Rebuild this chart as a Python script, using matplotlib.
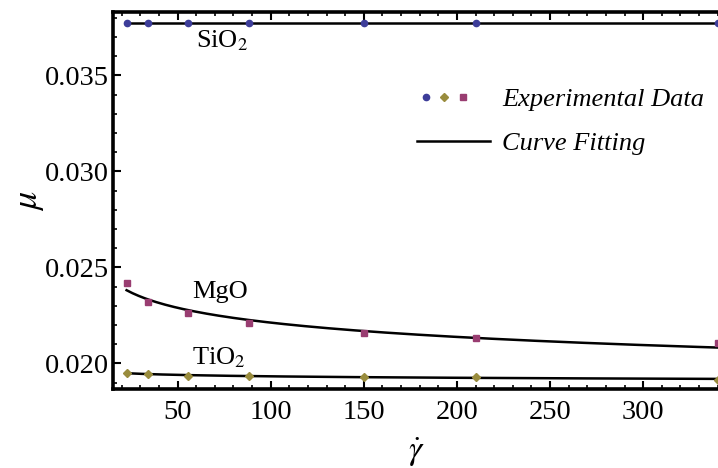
import numpy as np
import matplotlib
matplotlib.use("Agg")
import matplotlib.pyplot as plt
from matplotlib.lines import Line2D
from matplotlib.legend_handler import HandlerTuple
from matplotlib.ticker import MultipleLocator

plt.rcParams['font.family'] = ['Liberation Serif', 'DejaVu Serif']
plt.rcParams['mathtext.fontset'] = 'stix'

# shear rate values (x)
gamma_dot = [22.6, 34.2, 55.4, 88.3, 150.0, 210.0, 340.0]
# viscosity values
mu_sio2 = [0.03775, 0.03775, 0.03775, 0.03775, 0.03775, 0.03775, 0.03775]
mu_mgo = [0.02417, 0.02318, 0.02262, 0.02208, 0.02158, 0.02132, 0.02104]
mu_tio2 = [0.01950, 0.01946, 0.01932, 0.01932, 0.01930, 0.01930, 0.01915]

labels = ['SiO$_2$', 'MgO', 'TiO$_2$']
colores = ['#3D3D99', '#993D71', '#998C3D']


def ajuste_potencia(x, y):
    """Ajuste mu = K * x^b en escala log-log."""
    b, lnk = np.polyfit(np.log(x), np.log(y), 1)
    xs = np.linspace(min(x), max(x), 200)
    return xs, np.exp(lnk) * xs ** b


fig = plt.figure(figsize=(7.18, 4.68), dpi=100)
ax = fig.add_axes([113 / 718, 1 - 389.3 / 468, 607.4 / 718, 377.3 / 468])

for serie in [mu_sio2, mu_mgo, mu_tio2]:
    xs, ys = ajuste_potencia(gamma_dot, serie)
    ax.plot(xs, ys, color='black', lw=1.8, zorder=2)

ax.plot(gamma_dot, mu_sio2, 'o', color=colores[0], ms=4.5, zorder=3)
ax.plot(gamma_dot, mu_mgo, 's', color=colores[1], ms=5, zorder=3)
ax.plot(gamma_dot, mu_tio2, 'D', color=colores[2], ms=4.5, zorder=3)

ax.text(74, 0.0368, labels[0], fontsize=19, ha='center', va='center')
ax.text(73, 0.0237, labels[1], fontsize=19, ha='center', va='center')
ax.text(72, 0.0203, labels[2], fontsize=19, ha='center', va='center')

ax.set_xlim(15.3, 341.5)
ax.set_ylim(0.018646, 0.038297)
ax.xaxis.set_major_locator(MultipleLocator(50))
ax.xaxis.set_minor_locator(MultipleLocator(10))
ax.yaxis.set_major_locator(MultipleLocator(0.005))
ax.yaxis.set_minor_locator(MultipleLocator(0.001))
ax.yaxis.set_major_formatter(plt.FormatStrFormatter('%.3f'))

ax.tick_params(which='both', direction='in', top=True, right=False, labelsize=20.5)
ax.tick_params(which='major', length=6, width=1.5)
ax.tick_params(which='minor', length=3, width=1.2)
ax.tick_params(axis='x', pad=8)
ax.tick_params(axis='y', pad=3)
for s in ax.spines.values():
    s.set_linewidth(2.6)
ax.spines['right'].set_visible(False)

ax.set_xlabel(r'$\dot{\gamma}$', fontsize=24, va='center')
ax.xaxis.set_label_coords(0.5, -0.166)
ax.set_ylabel(r'$\mu$', fontsize=26, va='center')
ax.yaxis.set_label_coords(-0.137, 0.5)

exp_handle = (Line2D([], [], ls='none', marker='o', color=colores[0], ms=4.5),
              Line2D([], [], ls='none', marker='D', color=colores[2], ms=4.5),
              Line2D([], [], ls='none', marker='s', color=colores[1], ms=5))
fit_handle = Line2D([], [], color='black', lw=1.8)
leg = ax.legend([exp_handle, fit_handle], ['Experimental Data', 'Curve Fitting'],
                handler_map={tuple: HandlerTuple(ndivide=4, pad=0)},
                loc='upper left', bbox_to_anchor=(0.5005, 0.80), frameon=False,
                borderpad=0, borderaxespad=0, handlelength=2.77, handletextpad=0.45,
                labelspacing=0.78, prop={'style': 'italic', 'size': 19})

fig.savefig('out.png', dpi=100)
